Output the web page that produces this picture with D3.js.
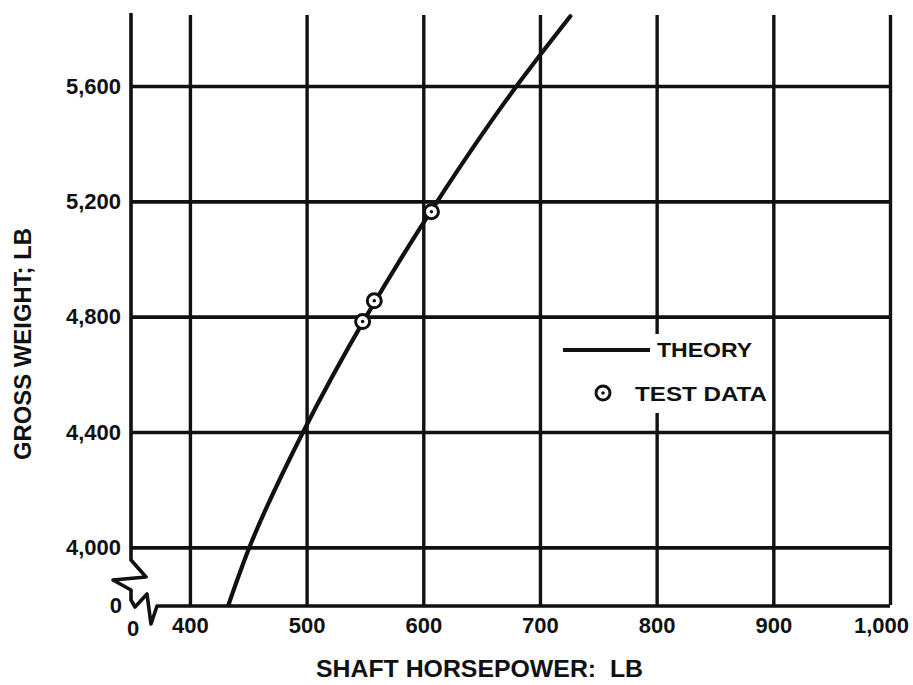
<!DOCTYPE html>
<html>
<head>
<meta charset="utf-8">
<script src="https://cdn.jsdelivr.net/npm/d3@7"></script>
<style>
  html, body { margin: 0; padding: 0; background: #fff; }
  svg { display: block; }
  text { font-family: "Liberation Sans", Arial, sans-serif; font-weight: bold; fill: #111; }
</style>
</head>
<body>
<svg id="chart" width="913" height="685"></svg>
<script>
// Gross weight vs. shaft horsepower: theory curve and flight test points
const xTicks = [400, 500, 600, 700, 800, 900, 1000];
const yTicks = [4000, 4400, 4800, 5200, 5600];

const theoryPower  = [433, 451, 497, 551, 612, 680, 726];
const theoryWeight = [3800, 4000, 4400, 4800, 5200, 5600, 5842];

const testPower  = [548, 558, 607];
const testWeight = [4783, 4855, 5164];

const svg = d3.select("#chart");
const ink = "#111";

const plotLeft = 131, plotRight = 890, plotTop = 15, plotBottom = 605;

const x = d3.scaleLinear().domain([349.5, 1000]).range([plotLeft, plotRight]);
const y = d3.scaleLinear().domain([3800, 5600]).range([plotBottom, 86]);

// vertical grid lines with tick labels
const xAxis = d3.axisBottom(x)
  .tickValues(xTicks)
  .tickFormat(d3.format(","))
  .tickSize(-(plotBottom - plotTop))
  .tickPadding(12);

const gx = svg.append("g")
  .attr("transform", `translate(0,${plotBottom})`)
  .call(xAxis);
gx.select(".domain").remove();
gx.selectAll(".tick line").attr("stroke", ink).attr("stroke-width", 3.4);
gx.selectAll(".tick text")
  .attr("font-size", 22)
  .attr("font-family", null)
  .attr("fill", ink)
  .attr("dx", d => d === 1000 ? -9 : 0);

// horizontal grid lines with tick labels
const yAxis = d3.axisLeft(y)
  .tickValues(yTicks)
  .tickFormat(d3.format(","))
  .tickSize(-(plotRight - plotLeft))
  .tickPadding(10);

const gy = svg.append("g")
  .attr("transform", `translate(${plotLeft},0)`)
  .call(yAxis);
gy.select(".domain").remove();
gy.selectAll(".tick line").attr("stroke", ink).attr("stroke-width", 3.6);
gy.selectAll(".tick text")
  .attr("font-size", 22)
  .attr("font-family", null)
  .attr("fill", ink);

// frame: left axis with a scale break, then the bottom axis
const frame = d3.path();
frame.moveTo(plotLeft, plotTop - 2);
frame.lineTo(plotLeft, 560);
frame.lineTo(plotLeft + 15, 577);
frame.lineTo(plotLeft - 18, 580);
frame.lineTo(plotLeft, 590);
frame.lineTo(plotLeft, 600);
frame.lineTo(plotLeft + 4, 607);
frame.lineTo(plotLeft + 16, 594);
frame.lineTo(plotLeft + 20, 624);
frame.lineTo(plotLeft + 26, plotBottom + 1);
frame.lineTo(plotRight, plotBottom + 1);
svg.append("path")
  .attr("d", frame.toString())
  .attr("fill", "none")
  .attr("stroke", ink)
  .attr("stroke-width", 3.6)
  .attr("stroke-linejoin", "round");

// zero labels at the broken origin
svg.append("text").attr("x", 122).attr("y", 613)
  .attr("text-anchor", "end").attr("font-size", 22).text("0");
svg.append("text").attr("x", 133).attr("y", 636)
  .attr("text-anchor", "middle").attr("font-size", 22).text("0");

// theory curve
const theory = theoryPower.map((p, i) => [p, theoryWeight[i]]);
svg.append("path")
  .datum(theory)
  .attr("fill", "none")
  .attr("stroke", ink)
  .attr("stroke-width", 4.2)
  .attr("stroke-linecap", "round")
  .attr("d", d3.line().x(d => x(d[0])).y(d => y(d[1])).curve(d3.curveMonotoneY));

// test data markers
function marker(g, cx, cy) {
  g.append("circle").attr("cx", cx).attr("cy", cy).attr("r", 7)
    .attr("fill", "#fff").attr("stroke", ink).attr("stroke-width", 3);
  g.append("circle").attr("cx", cx).attr("cy", cy).attr("r", 1.8).attr("fill", ink);
}
const pts = svg.append("g");
testPower.forEach((p, i) => marker(pts, x(p), y(testWeight[i])));

// legend (white panel masks the 800 grid line behind it)
const lg = svg.append("g");
lg.append("rect").attr("x", 556).attr("y", 334).attr("width", 210).attr("height", 79).attr("fill", "#fff");
lg.append("line").attr("x1", 563).attr("x2", 650).attr("y1", 350).attr("y2", 350)
  .attr("stroke", ink).attr("stroke-width", 4);
lg.append("text").attr("x", 657).attr("y", 357).attr("font-size", 21)
  .attr("textLength", 95).attr("lengthAdjust", "spacingAndGlyphs").text("THEORY");
marker(lg, 603, 393);
lg.append("text").attr("x", 635).attr("y", 401).attr("font-size", 21)
  .attr("textLength", 132).attr("lengthAdjust", "spacingAndGlyphs").text("TEST DATA");

// axis titles
svg.append("text")
  .attr("transform", "translate(31,344) rotate(-90)")
  .attr("text-anchor", "middle")
  .attr("font-size", 23)
  .attr("textLength", 232).attr("lengthAdjust", "spacingAndGlyphs")
  .text("GROSS WEIGHT; LB");

svg.append("text")
  .attr("x", 316).attr("y", 677)
  .attr("font-size", 23)
  .attr("textLength", 327).attr("lengthAdjust", "spacingAndGlyphs")
  .style("white-space", "pre")
  .text("SHAFT HORSEPOWER:  LB");
</script>
</body>
</html>
